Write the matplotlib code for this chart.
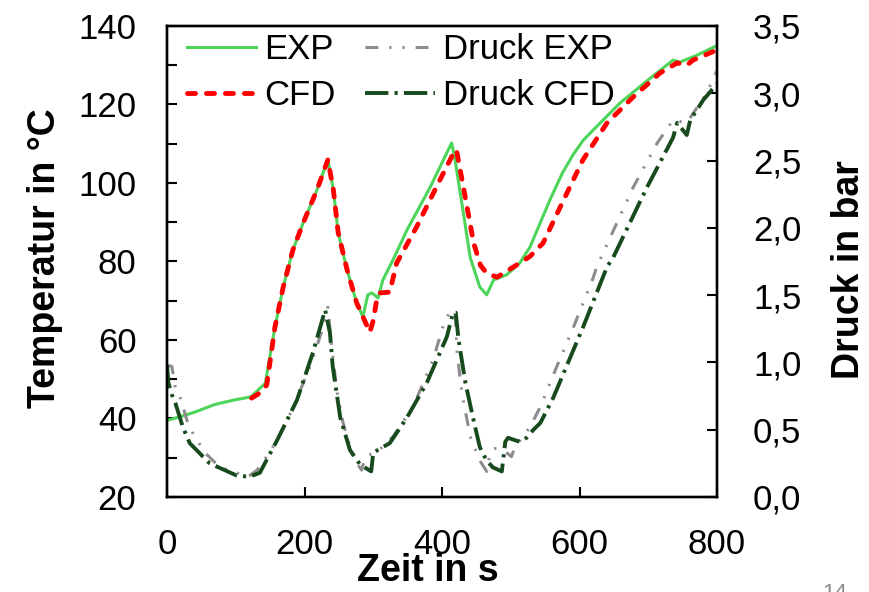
import numpy as np
import matplotlib.pyplot as plt
from matplotlib.ticker import MultipleLocator, FuncFormatter

plt.rcParams['font.family'] = ['Liberation Sans', 'DejaVu Sans']

# temperature, experiment
t_exp = [0, 20, 40, 70, 100, 122, 143, 157, 169, 183, 198, 218, 234,
         242, 249, 262, 276, 285, 292, 298, 307, 314, 329, 349, 383,
         414, 419, 431, 441, 455, 465, 475, 494, 513, 528, 557, 575, 591, 605, 620,
         659, 698, 736, 746, 770, 800]
T_exp = [39.5, 40.5, 41.6, 43.6, 44.8, 45.5, 49, 63.3, 73.5, 82.9, 89.8, 98.2, 106,
         98.2, 87.3, 77.8, 69.4, 65.9, 71.5, 72, 70.7, 75.3, 80.5, 88, 99,
         110.2, 105.9, 92.4, 81, 73.5, 71.5, 75.3, 76.6, 79.6, 83.7, 95.7, 102.5, 107.3, 110.8, 113.5,
         120.4, 126, 131.3, 130.8, 132.5, 135]

# temperature, CFD
t_cfd = [123, 135, 145, 157, 169, 183, 198, 218, 234, 242, 249, 262, 276, 285,
         295, 300, 305, 310, 324, 334, 363, 397, 419, 421, 431, 446, 456,
         465, 480, 504, 528, 547, 572, 605, 640, 678, 717, 742, 756, 765, 800]
T_cfd = [45.2, 46.5, 48.5, 63.3, 73.5, 82.9, 89.8, 98.2, 105.9, 98.2, 87.3, 77.8, 69.4, 65.9,
         62, 65, 70.2, 72, 72.2, 79.6, 88.8, 100.8, 108.4, 108.4, 99, 84.7, 79,
         77, 76, 78.6, 81.3, 84.7, 93.9, 105.9, 115.3, 121.9, 128, 130.6, 130, 131.3, 133.9]

# pressure, experiment
tp_exp = [0, 7, 12, 19, 29, 38, 55, 77, 101, 118, 131, 145, 160, 184, 208, 227, 234,
          240, 247, 256, 271, 283, 288, 292, 305, 329, 358, 387, 404, 414, 419, 422,
          429, 441, 455, 465, 470, 477, 489, 501, 506, 528, 543, 567, 591, 620, 625,
          678, 713, 736, 756, 785, 800]
p_exp = [0.98, 0.97, 0.82, 0.74, 0.57, 0.47, 0.33, 0.22, 0.18, 0.15, 0.2, 0.3, 0.42, 0.67, 0.97, 1.26, 1.41,
         1.09, 0.79, 0.55, 0.29, 0.2, 0.29, 0.31, 0.33, 0.45, 0.67, 1.02, 1.31, 1.39, 1.37, 1.07,
         0.77, 0.45, 0.27, 0.19, 0.33, 0.36, 0.35, 0.3, 0.37, 0.52, 0.67, 0.97, 1.26, 1.63, 1.71,
         2.3, 2.63, 2.8, 2.78, 3.0, 3.17]

# pressure, CFD
tp_cfd = [0, 2, 7, 12, 23, 33, 62, 101, 120, 135, 160, 189, 212, 230, 237, 241, 252,
          266, 281, 297, 300, 324, 349, 378, 407, 416, 420, 424, 434, 445, 455, 465,
          474, 487, 492, 496, 513, 523, 533, 543, 562, 581, 605, 640, 649, 698, 736,
          742, 756, 761, 780, 800]
p_cfd = [0.98, 0.85, 0.76, 0.7, 0.52, 0.4, 0.25, 0.16, 0.15, 0.18, 0.42, 0.72, 1.07, 1.39, 1.22, 0.97, 0.59,
         0.35, 0.24, 0.19, 0.33, 0.4, 0.59, 0.85, 1.19, 1.37, 1.37, 1.17, 0.85, 0.59, 0.37, 0.27,
         0.22, 0.19, 0.41, 0.44, 0.41, 0.44, 0.5, 0.55, 0.74, 0.97, 1.26, 1.71, 1.78, 2.3, 2.67,
         2.78, 2.69, 2.8, 2.95, 3.07]

fig = plt.figure(figsize=(8.69, 5.92), dpi=100)
ax = fig.add_axes([0.1922, 0.1605, 0.6329, 0.7956])
ax2 = ax.twinx()

l1, = ax.plot(t_exp, T_exp, color='#4cd55a', lw=2.2, label='EXP')
l2, = ax.plot(t_cfd, T_cfd, color='#ff0000', lw=3.5, dashes=(1.65, 2.25),
              dash_capstyle='round', label='CFD')
l3, = ax2.plot(tp_exp, p_exp, color='#8c8c8c', lw=2.2,
               dashes=(4.2, 3.6, 0.7, 3.6, 0.7, 3.6), label='Druck EXP')
l4, = ax2.plot(tp_cfd, p_cfd, color='#174a1c', lw=2.8,
               dashes=(6, 1.6, 0.8, 1.6), label='Druck CFD')

ax.set_xlim(0, 800)
ax.set_ylim(20, 140)
ax2.set_ylim(0, 3.5)
ax.xaxis.set_major_locator(MultipleLocator(200))
ax.yaxis.set_major_locator(MultipleLocator(20))
ax.yaxis.set_minor_locator(MultipleLocator(10))
ax2.yaxis.set_major_locator(MultipleLocator(0.5))
ax2.yaxis.set_major_formatter(FuncFormatter(lambda v, p: f'{v:.1f}'.replace('.', ',')))

ax.tick_params(axis='y', which='both', direction='in', length=7, width=1.5,
               labelsize=25, pad=22)
ax.tick_params(axis='x', direction='in', length=7, width=1.5, labelsize=25, pad=22)
ax2.tick_params(axis='y', direction='in', length=7, width=1.5, labelsize=25, pad=26)
for a in (ax, ax2):
    for s in a.spines.values():
        s.set_linewidth(1.7)

ax.set_xlabel('Zeit in s', fontsize=27, fontweight='bold')
ax.set_ylabel('Temperatur in °C', fontsize=27, fontweight='bold')
ax2.set_ylabel('Druck in bar', fontsize=27, fontweight='bold')
ax.xaxis.set_label_coords(0.475, -0.118)
ax.yaxis.set_label_coords(-0.189, 0.507)
ax2.yaxis.set_label_coords(1.207, 0.482)

ax2.legend(handles=[l1, l2, l3, l4], ncol=2, loc='upper left',
           bbox_to_anchor=(0.036, 0.985), frameon=False, fontsize=25,
           handlelength=2.0, handletextpad=0.23, columnspacing=0.86,
           labelspacing=0.38, borderpad=0, borderaxespad=0)

fig.text(822 / 869, 1 - 583 / 592, '14', color='#8c8c8c', fontsize=16,
         ha='left', va='top')

fig.savefig('out.png', dpi=100)
